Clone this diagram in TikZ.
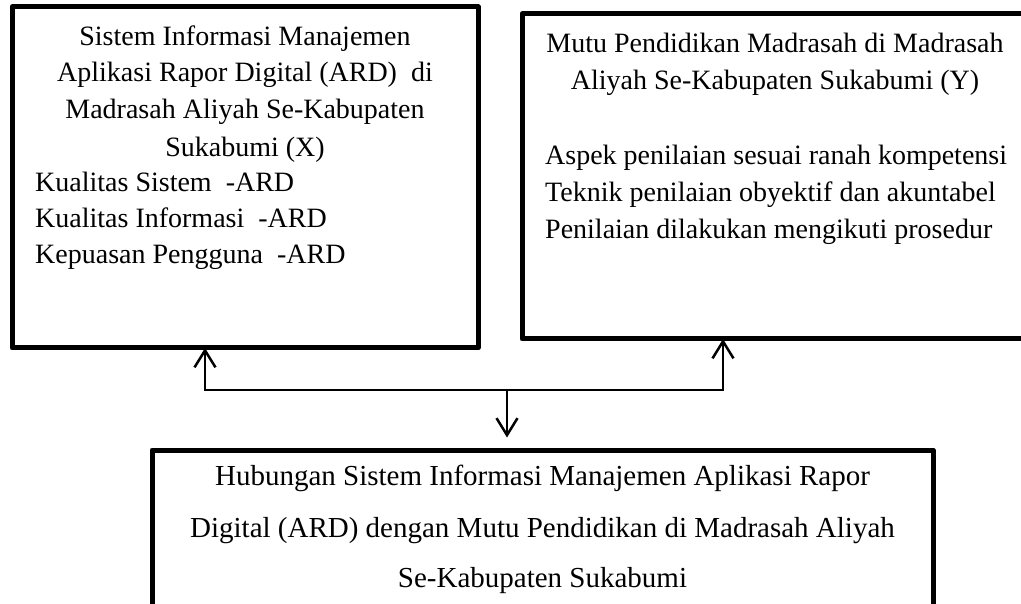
\documentclass[tikz,border=0pt]{standalone}
\usepackage{fontspec}
\setmainfont{Liberation Serif}
\usetikzlibrary{arrows.meta}
\begin{document}
\begin{tikzpicture}[x=1pt,y=-1pt,
  box/.style={draw, line width=5pt, line join=round, inner sep=0pt},
  conn/.style={line width=2.5pt},
  barb/.tip={Straight Barb[length=17pt,width=21pt,line width=2.5pt]},
  txt/.style={inner sep=0pt, font=\fontsize{28}{34}\selectfont},
  ctxt/.style={txt, anchor=base},
  ltxt/.style={txt, anchor=base west},
  btxt/.style={inner sep=0pt, anchor=base, font=\fontsize{29}{34}\selectfont}
]
\useasboundingbox (0,0) rectangle (1021,604);
\clip (0,0) rectangle (1021,604);

% boxes
\node[box, minimum width=466pt, minimum height=341pt] (X) at (245,177.5) {};
\node[box, minimum width=506pt, minimum height=325pt] (Y) at (775,176.5) {};
\node[box, minimum width=781pt, minimum height=180pt] (B) at (542.5,540) {};

% left box text
\node[ctxt] (x1) at (245,45.5) {Sistem Informasi Manajemen};
\node[ctxt] (x2) at (245,82) {Aplikasi Rapor Digital (ARD)\ \ di};
\node[ctxt] (x3) at (245,118.5) {Madrasah Aliyah Se-Kabupaten};
\node[ctxt] (x4) at (245,156.5) {Sukabumi (X)};
\node[ltxt] (x5) at (35,192) {Kualitas Sistem\ \ -ARD};
\node[ltxt] (x6) at (35,228) {Kualitas Informasi\ \ -ARD};
\node[ltxt] (x7) at (35,263.5) {Kepuasan Pengguna\ \ -ARD};

% right box text
\node[ctxt] (y1) at (775,52.7) {Mutu Pendidikan Madrasah di Madrasah};
\node[ctxt] (y2) at (775,90) {Aliyah Se-Kabupaten Sukabumi (Y)};
\node[ltxt] (y3) at (545,165) {Aspek penilaian sesuai ranah kompetensi};
\node[ltxt] (y4) at (545,201.7) {Teknik penilaian obyektif dan akuntabel};
\node[ltxt] (y5) at (545,238.3) {Penilaian dilakukan mengikuti prosedur};

% bottom box text
\node[btxt] (b1) at (542.5,485) {Hubungan Sistem Informasi Manajemen Aplikasi Rapor};
\node[btxt] (b2) at (542.5,537.5) {Digital (ARD) dengan Mutu Pendidikan di Madrasah Aliyah};
\node[btxt] (b3) at (542.5,587) {Se-Kabupaten Sukabumi};

% connectors
\coordinate (jl) at (205,390);
\coordinate (jr) at (723,390);
\coordinate (jm) at (507,390);
\draw[conn, barb-barb, shorten <=-2.5pt, shorten >=-2.5pt]
  (X.south -| jl) -- (jl) -- (jr) -- (Y.south -| jr);
\draw[conn, -barb, shorten >=10pt] (jm) -- (B.north -| jm);
\end{tikzpicture}
\end{document}
